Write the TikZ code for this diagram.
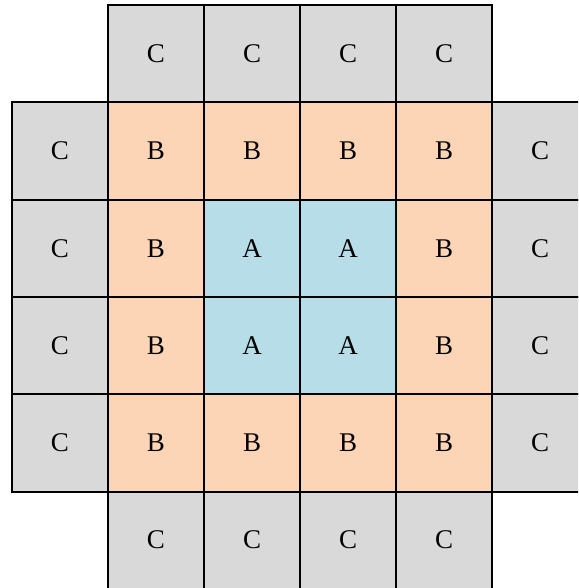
\documentclass[tikz,border=0pt]{standalone}
\usepackage{fontspec}
\setmainfont{Liberation Serif}
\usepackage{tikz}
\usetikzlibrary{positioning}
\definecolor{cellGrey}{RGB}{217,217,217}
\definecolor{cellPeach}{RGB}{251,213,181}
\definecolor{cellBlue}{RGB}{183,222,232}
\tikzset{
  cell/.style={draw=black, line width=2pt, outer sep=0pt, inner sep=0pt,
               minimum width=96pt, minimum height=97.3pt,
               font=\fontsize{27}{32}\selectfont},
  cellA/.style={cell, fill=cellBlue},
  cellB/.style={cell, fill=cellPeach},
  cellC/.style={cell, fill=cellGrey},
}
\begin{document}
\begin{tikzpicture}[x=1pt, y=1pt, node distance=0pt]
\useasboundingbox (0,0) rectangle (578,-588);
\clip (0,0) rectangle (578,-588);
% top row
\node[cellC] (r1c2) at (156,-53.65) {C};
\node[cellC, right=of r1c2] (r1c3) {C};
\node[cellC, right=of r1c3] (r1c4) {C};
\node[cellC, right=of r1c4] (r1c5) {C};
% second row
\node[cellC, below left=of r1c2] (r2c1) {C};
\node[cellB, right=of r2c1] (r2c2) {B};
\node[cellB, right=of r2c2] (r2c3) {B};
\node[cellB, right=of r2c3] (r2c4) {B};
\node[cellB, right=of r2c4] (r2c5) {B};
\node[cellC, right=of r2c5] (r2c6) {C};
% third row
\node[cellC, below=of r2c1] (r3c1) {C};
\node[cellB, right=of r3c1] (r3c2) {B};
\node[cellA, right=of r3c2] (r3c3) {A};
\node[cellA, right=of r3c3] (r3c4) {A};
\node[cellB, right=of r3c4] (r3c5) {B};
\node[cellC, right=of r3c5] (r3c6) {C};
% fourth row
\node[cellC, below=of r3c1] (r4c1) {C};
\node[cellB, right=of r4c1] (r4c2) {B};
\node[cellA, right=of r4c2] (r4c3) {A};
\node[cellA, right=of r4c3] (r4c4) {A};
\node[cellB, right=of r4c4] (r4c5) {B};
\node[cellC, right=of r4c5] (r4c6) {C};
% fifth row
\node[cellC, below=of r4c1] (r5c1) {C};
\node[cellB, right=of r5c1] (r5c2) {B};
\node[cellB, right=of r5c2] (r5c3) {B};
\node[cellB, right=of r5c3] (r5c4) {B};
\node[cellB, right=of r5c4] (r5c5) {B};
\node[cellC, right=of r5c5] (r5c6) {C};
% bottom row
\node[cellC, below=of r5c2] (r6c2) {C};
\node[cellC, right=of r6c2] (r6c3) {C};
\node[cellC, right=of r6c3] (r6c4) {C};
\node[cellC, right=of r6c4] (r6c5) {C};
\end{tikzpicture}
\end{document}
